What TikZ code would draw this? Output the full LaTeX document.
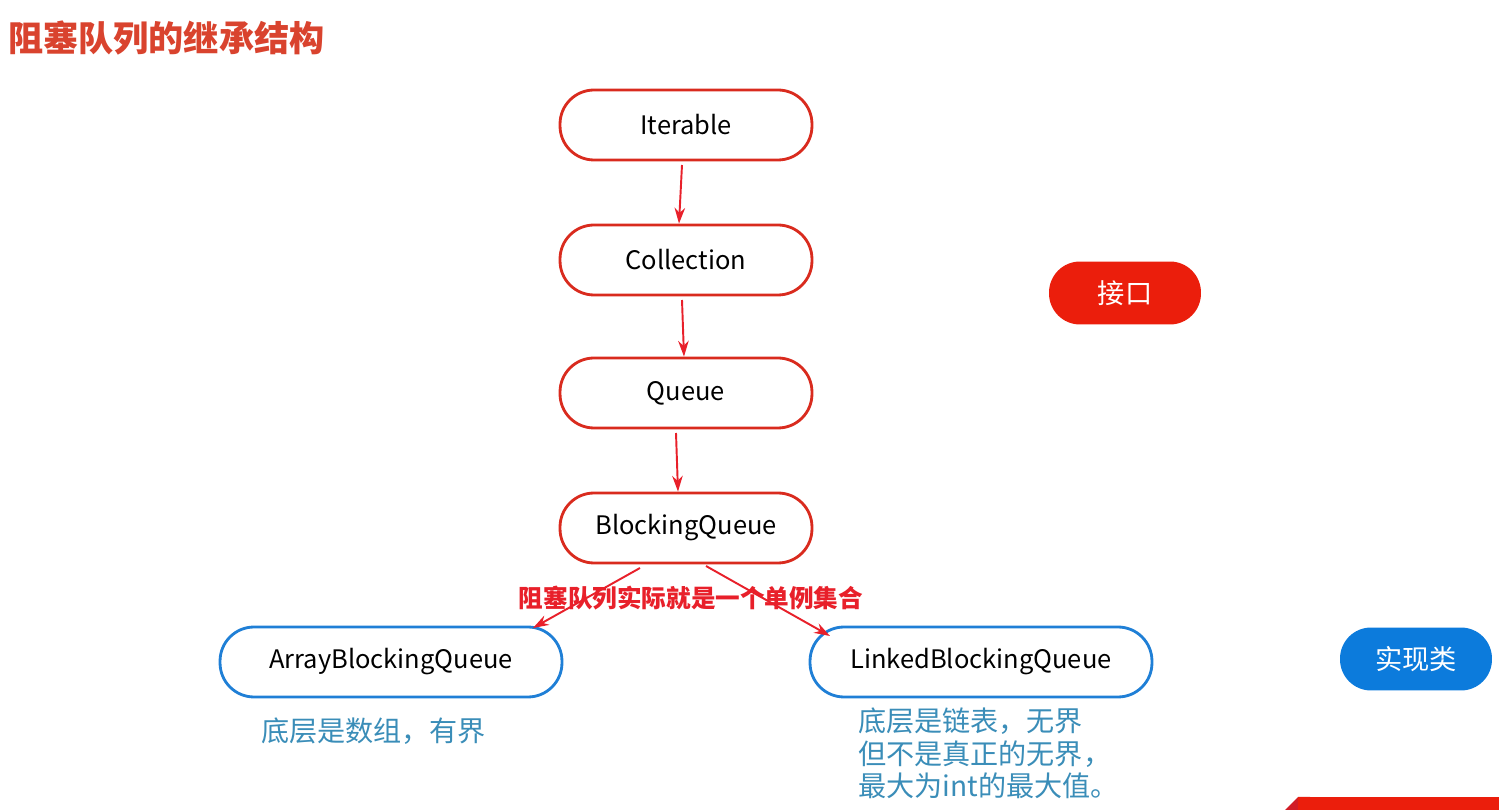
\documentclass[tikz,border=0pt]{standalone}
\usepackage{fontspec}
\setmainfont{Noto Sans CJK SC}
\usepackage{xcolor}
\usetikzlibrary{arrows.meta, positioning}
\definecolor{ifred}{HTML}{D92B1E}
\definecolor{ifbg}{HTML}{EB1E0C}
\definecolor{implblue}{HTML}{1F7FD6}
\definecolor{implbg}{HTML}{0C7BDC}
\definecolor{noteblue}{HTML}{3A8DB8}
\definecolor{titlered}{HTML}{D9432E}
\definecolor{arrred}{HTML}{E8202A}

\begin{document}
\begin{tikzpicture}[
    x=0.02cm, y=-0.02cm,
    ifbox/.style={rectangle, rounded corners=0.68cm, minimum width=5.04cm, minimum height=1.4cm, text centered, draw=ifred, line width=1.6pt, font=\fontsize{14.5}{17}\selectfont},
    implbox/.style={ifbox, draw=implblue, minimum width=6.84cm},
    legend/.style={rectangle, rounded corners=0.62cm, minimum width=3.04cm, minimum height=1.26cm, text=white, font=\fontsize{15.5}{18}\selectfont},
    note/.style={text=noteblue, align=left, anchor=north west, font=\fontsize{16}{18.5}\selectfont},
    arrow/.style={draw=arrred, line width=1.1pt, -{Stealth[length=9pt, width=6pt]}}
]
    \useasboundingbox (0,0) rectangle (1499,810);

    \node (title) [anchor=west, text=titlered, font=\fontsize{20}{24}\selectfont\bfseries] at (2,38) {阻塞队列的继承结构};

    \node (iterable) [ifbox] at (686,125) {Iterable};
    \node (collection) [ifbox] at (686,260) {Collection};
    \node (queue) [ifbox] at (686,393) {Queue};
    \node (blocking) [ifbox] at (686,528) {BlockingQueue};
    \node (array) [implbox] at (391,662) {ArrayBlockingQueue};
    \node (linked) [implbox] at (981,662) {LinkedBlockingQueue};

    \node (iface) [legend, fill=ifbg] at (1125,293) {接口};
    \node (impl) [legend, fill=implbg] at (1416,659) {实现类};

    \coordinate (itS) at (682,165);
    \coordinate (coS) at (682,300);
    \coordinate (quS) at (676,433);
    \coordinate (blSW) at (640,568);
    \coordinate (blSE) at (706,566);
    \coordinate (arN) at (533,628);
    \coordinate (liN) at (830,636);

    \draw [arrow] (itS) -- (collection.north -| 679,0);
    \draw [arrow] (coS) -- (queue.north -| 684,0);
    \draw [arrow] (quS) -- (blocking.north -| 678,0);
    \draw [arrow] (blSW) -- (arN);
    \draw [arrow] (blSE) -- (liN);

    \node (single) [text=arrred, font=\fontsize{14}{17}\selectfont\bfseries] at (691,598) {阻塞队列实际就是一个单例集合};

    \node (arraynote) [note] at (255,712) {底层是数组，有界};
    \node (linkednote) [note] at (852,702) {底层是链表，无界\\但不是真正的无界，\\最大为int的最大值。};

    % corner banner
    \fill [arrred!90!black] (1285,810) -- (1298,797) -- (1310,797) -- (1310,810) -- cycle;
    \fill [ifbg] (1298,797) -- (1499,797) -- (1499,810) -- (1298,810) -- cycle;
\end{tikzpicture}
\end{document}
